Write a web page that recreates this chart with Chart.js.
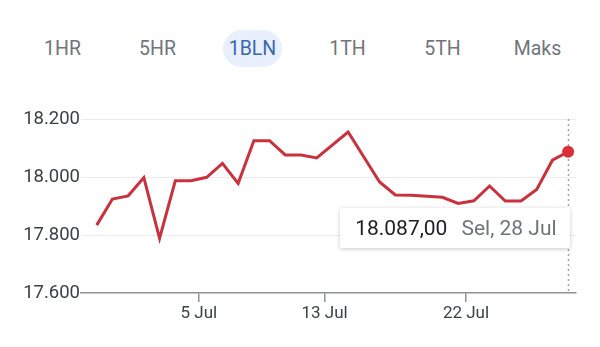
<!DOCTYPE html>
<html>
<head>
<meta charset="utf-8">
<script src="https://cdn.jsdelivr.net/npm/chart.js@4/dist/chart.umd.min.js"></script>
<style>
  html, body { margin: 0; padding: 0; background: #fff; }
  body { width: 600px; height: 347px; position: relative; overflow: hidden; font-family: Roboto, "Noto Sans", sans-serif; }
  #tabs { position: absolute; left: 15px; top: 30px; display: flex; }
  #tabs div { width: 95px; height: 37px; line-height: 37px; text-align: center; font-size: 19.5px; color: #70757a; }
  #tabs div.on span { display: inline-block; width: 59px; border-radius: 19px; background: #e8f0fe; color: #3a68ad; }
  #chart { position: absolute; left: 0; top: 0; }
  #tip { position: absolute; display: none; background: #fff; height: 40px; line-height: 40px; padding: 0 13px 0 15px;
         font-size: 21px; white-space: nowrap; box-shadow: 0 1px 4px rgba(0,0,0,0.22); border-radius: 2px; }
  #tip .v { color: #202124; margin-right: 14px; }
  #tip .d { color: #70757a; }
</style>
</head>
<body>
<div id="tabs"></div>
<canvas id="chart" width="600" height="347"></canvas>
<div id="tip"><span class="v"></span><span class="d"></span></div>
<script>
// range tabs
const tabs = ['1HR', '5HR', '1BLN', '1TH', '5TH', 'Maks'];
const activeTab = '1BLN';

// daily closing values
const dates = ['2026-06-28', '2026-06-29', '2026-06-30', '2026-07-01', '2026-07-02', '2026-07-03', '2026-07-04',
  '2026-07-05', '2026-07-06', '2026-07-07', '2026-07-08', '2026-07-09', '2026-07-10', '2026-07-11', '2026-07-12',
  '2026-07-14', '2026-07-16', '2026-07-17', '2026-07-18', '2026-07-20', '2026-07-21', '2026-07-22', '2026-07-23',
  '2026-07-24', '2026-07-25', '2026-07-26', '2026-07-27', '2026-07-28'];
const values = [17834, 17924, 17935, 17998, 17788, 17987, 17987, 17999, 18047, 17978, 18125, 18125, 18076, 18076,
  18066, 18155, 17983, 17938, 17937, 17930, 17909, 17918, 17969, 17917, 17917, 17957, 18058, 18087];

// axis ticks
const tickDays = [5, 13, 22];
const tickLabels = ['5 Jul', '13 Jul', '22 Jul'];
const yTicks = [17600, 17800, 18000, 18200];

const dayNames = ['Min', 'Sen', 'Sel', 'Rab', 'Kam', 'Jum', 'Sab'];
const monthNames = ['Jan', 'Feb', 'Mar', 'Apr', 'Mei', 'Jun', 'Jul', 'Agu', 'Sep', 'Okt', 'Nov', 'Des'];

const DAY = 86400000;
const base = Date.parse('2026-06-30');
// points sit at midday, ticks at midnight
const points = dates.map((d, i) => ({ x: (Date.parse(d) - base) / DAY + 0.5, y: values[i] }));
const last = values.length - 1;

function thousands(n) {
  return String(Math.round(n)).replace(/\B(?=(\d{3})+(?!\d))/g, '.');
}

document.getElementById('tabs').innerHTML = tabs.map(t =>
  t === activeTab ? '<div class="on"><span>' + t + '</span></div>' : '<div>' + t + '</div>').join('');

// dotted cursor line + tooltip box on the selected point
const cursor = {
  id: 'cursor',
  beforeDatasetsDraw(chart) {
    const el = chart.getDatasetMeta(0).data[last];
    const { top, bottom } = chart.chartArea;
    const c = chart.ctx;
    c.save();
    c.strokeStyle = '#a0a4a8';
    c.lineWidth = 1.5;
    c.setLineDash([2, 3]);
    c.beginPath();
    c.moveTo(Math.round(el.x) + 0.5, top);
    c.lineTo(Math.round(el.x) + 0.5, bottom);
    c.stroke();
    c.restore();
  },
  afterRender(chart) {
    const el = chart.getDatasetMeta(0).data[last];
    const tip = document.getElementById('tip');
    const dt = new Date(Date.parse(dates[last]));
    tip.querySelector('.v').textContent = thousands(values[last]) + ',00';
    tip.querySelector('.d').textContent = dayNames[dt.getUTCDay()] + ', ' + dt.getUTCDate() + ' ' + monthNames[dt.getUTCMonth()];
    tip.style.display = 'block';
    tip.style.left = (el.x + 1 - tip.offsetWidth) + 'px';
    tip.style.top = (el.y + 56) + 'px';
  }
};

new Chart(document.getElementById('chart'), {
  type: 'line',
  data: {
    datasets: [{
      data: points,
      borderColor: '#c9323c',
      borderWidth: 3,
      tension: 0,
      pointRadius: ctx => ctx.dataIndex === last ? 6 : 0,
      pointBackgroundColor: '#d9303a',
      pointBorderWidth: 0
    }]
  },
  options: {
    responsive: false,
    animation: false,
    events: [],
    layout: { padding: { left: 0, right: 24, top: 119, bottom: 0 } },
    plugins: { legend: { display: false }, tooltip: { enabled: false } },
    scales: {
      x: {
        type: 'linear',
        min: -2.5,
        max: 29,
        afterBuildTicks: s => { s.ticks = tickDays.map(v => ({ value: v })); },
        afterFit: s => { s.height = 54; },
        border: { display: true, color: '#8e9296', width: 1.5 },
        grid: { drawOnChartArea: false, drawTicks: true, tickLength: 9, color: '#8e9296', lineWidth: 1.5 },
        ticks: {
          padding: 2,
          maxRotation: 0,
          autoSkip: false,
          color: '#3c4043',
          font: { family: 'Roboto', size: 17 },
          callback: v => tickLabels[tickDays.indexOf(v)]
        }
      },
      y: {
        min: 17600,
        max: 18200,
        afterBuildTicks: s => { s.ticks = yTicks.map(v => ({ value: v })); },
        afterFit: s => { s.width = 81; },
        border: { display: false },
        grid: { drawTicks: false, color: ctx => ctx.tick && ctx.tick.value === 17600 ? 'rgba(0,0,0,0)' : '#ebebeb' },
        ticks: {
          padding: 1,
          color: '#3c4043',
          font: { family: 'Roboto', size: 18.5 },
          callback: v => thousands(v)
        }
      }
    }
  },
  plugins: [cursor]
});
</script>
</body>
</html>
